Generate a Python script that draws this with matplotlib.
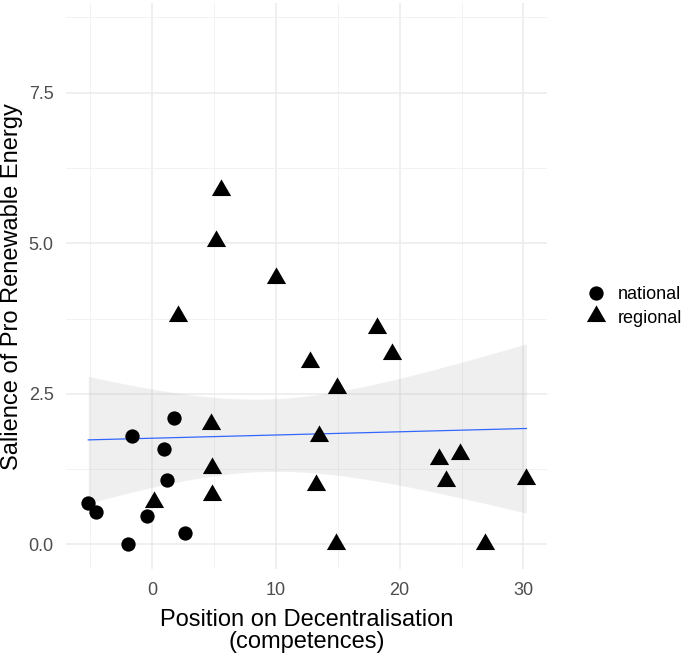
import numpy as np
import matplotlib
matplotlib.use("Agg")
import matplotlib.pyplot as plt
from matplotlib.path import Path

# ---- data ----
national_x = [-5.15, -4.55, -1.96, -1.59, -0.43, 0.99, 1.19, 1.78, 2.69]
national_y = [0.68, 0.54, 0.00, 1.80, 0.47, 1.58, 1.06, 2.09, 0.18]

regional_x = [0.13, 2.10, 4.78, 4.85, 4.86, 5.17, 5.57, 9.99, 12.75, 13.25,
              13.46, 14.89, 14.96, 18.15, 19.39, 23.17, 23.73, 24.89, 26.87, 30.24]
regional_y = [0.70, 3.80, 2.00, 1.26, 0.82, 5.04, 5.88, 4.43, 3.02, 0.98,
              1.80, 0.00, 2.59, 3.60, 3.16, 1.41, 1.05, 1.50, 0.00, 1.08]

group_labels = ["national", "regional"]
x_ticks = [0, 10, 20, 30]
y_ticks = [0.0, 2.5, 5.0, 7.5]
x_label_lines = ["Position on Decentralisation", "(competences)"]
y_label = "Salience of Pro Renewable Energy"

plt.rcParams['font.family'] = ['Liberation Sans', 'DejaVu Sans']

W, H = 685, 658
fig = plt.figure(figsize=(W / 100, H / 100), dpi=100)
L, R, T, B = 66, 547.3, 3, 569.3
ax = fig.add_axes([L / W, 1 - B / H, (R - L) / W, (B - T) / H])

# triangle with centroid at the data point (like R pch 17)
tri = Path([(0, 1), (-0.866, -0.5), (0.866, -0.5), (0, 1)],
           [Path.MOVETO, Path.LINETO, Path.LINETO, Path.CLOSEPOLY])

# linear fit with 95% CI over all points
xa = np.array(national_x + regional_x)
ya = np.array(national_y + regional_y)
n = len(xa)
slope, intercept = np.polyfit(xa, ya, 1)
resid = ya - (intercept + slope * xa)
s = np.sqrt(np.sum(resid ** 2) / (n - 2))
xm = xa.mean()
sxx = np.sum((xa - xm) ** 2)
xs = np.linspace(xa.min(), xa.max(), 80)
yfit = intercept + slope * xs
se = s * np.sqrt(1 / n + (xs - xm) ** 2 / sxx)
tval = 2.0518  # t(0.975, df=27)

ax.fill_between(xs, yfit - tval * se, yfit + tval * se, color='#999999',
                alpha=0.15, linewidth=0, zorder=2)
ax.plot(xs, yfit, color='#3366FF', lw=0.9, zorder=3)

ax.plot(national_x, national_y, linestyle='none', marker='o', ms=10.3,
        color='black', mec='none', zorder=4, label=group_labels[0])
ax.plot(regional_x, regional_y, linestyle='none', marker=tri, ms=16,
        color='black', mec='none', zorder=4, label=group_labels[1])

ax.set_xlim(-6.95, 31.93)
ax.set_ylim(-0.415, 8.99)
ax.set_xticks(x_ticks)
ax.set_xticklabels([str(v) for v in x_ticks])
ax.set_yticks(y_ticks)
ax.set_yticklabels([f"{v:.1f}" for v in y_ticks])
ax.set_xticks([-5, 5, 15, 25], minor=True)
ax.set_yticks([1.25, 3.75, 6.25, 8.75], minor=True)
ax.grid(True, which='major', color='#EBEBEB', lw=1.1, zorder=0)
ax.grid(True, which='minor', color='#F2F2F2', lw=0.7, zorder=0)
ax.set_axisbelow(True)
for sp in ax.spines.values():
    sp.set_visible(False)
ax.tick_params(which='both', length=0)
ax.tick_params(axis='y', labelsize=13, labelcolor='#4D4D4D', pad=9)
ax.tick_params(axis='x', labelsize=13, labelcolor='#4D4D4D', pad=9)

cx = (L + R) / 2 / W
fig.text(cx, 1 - 625.7 / H, x_label_lines[0], ha='center', va='baseline',
         fontsize=17, color='black')
fig.text(cx, 1 - 648.3 / H, x_label_lines[1], ha='center', va='baseline',
         fontsize=17, color='black')
fig.text(12 / W, 1 - (T + B) / 2 / H, y_label, ha='center', va='center',
         rotation=90, fontsize=17, color='black')

leg = fig.legend(loc='center left', bbox_to_anchor=(575 / W, 1 - 306.5 / H),
                 frameon=False, fontsize=13, handletextpad=0.47,
                 labelspacing=0.36, borderaxespad=0, handlelength=1.5)

fig.savefig("out.png", dpi=100, facecolor='white')
